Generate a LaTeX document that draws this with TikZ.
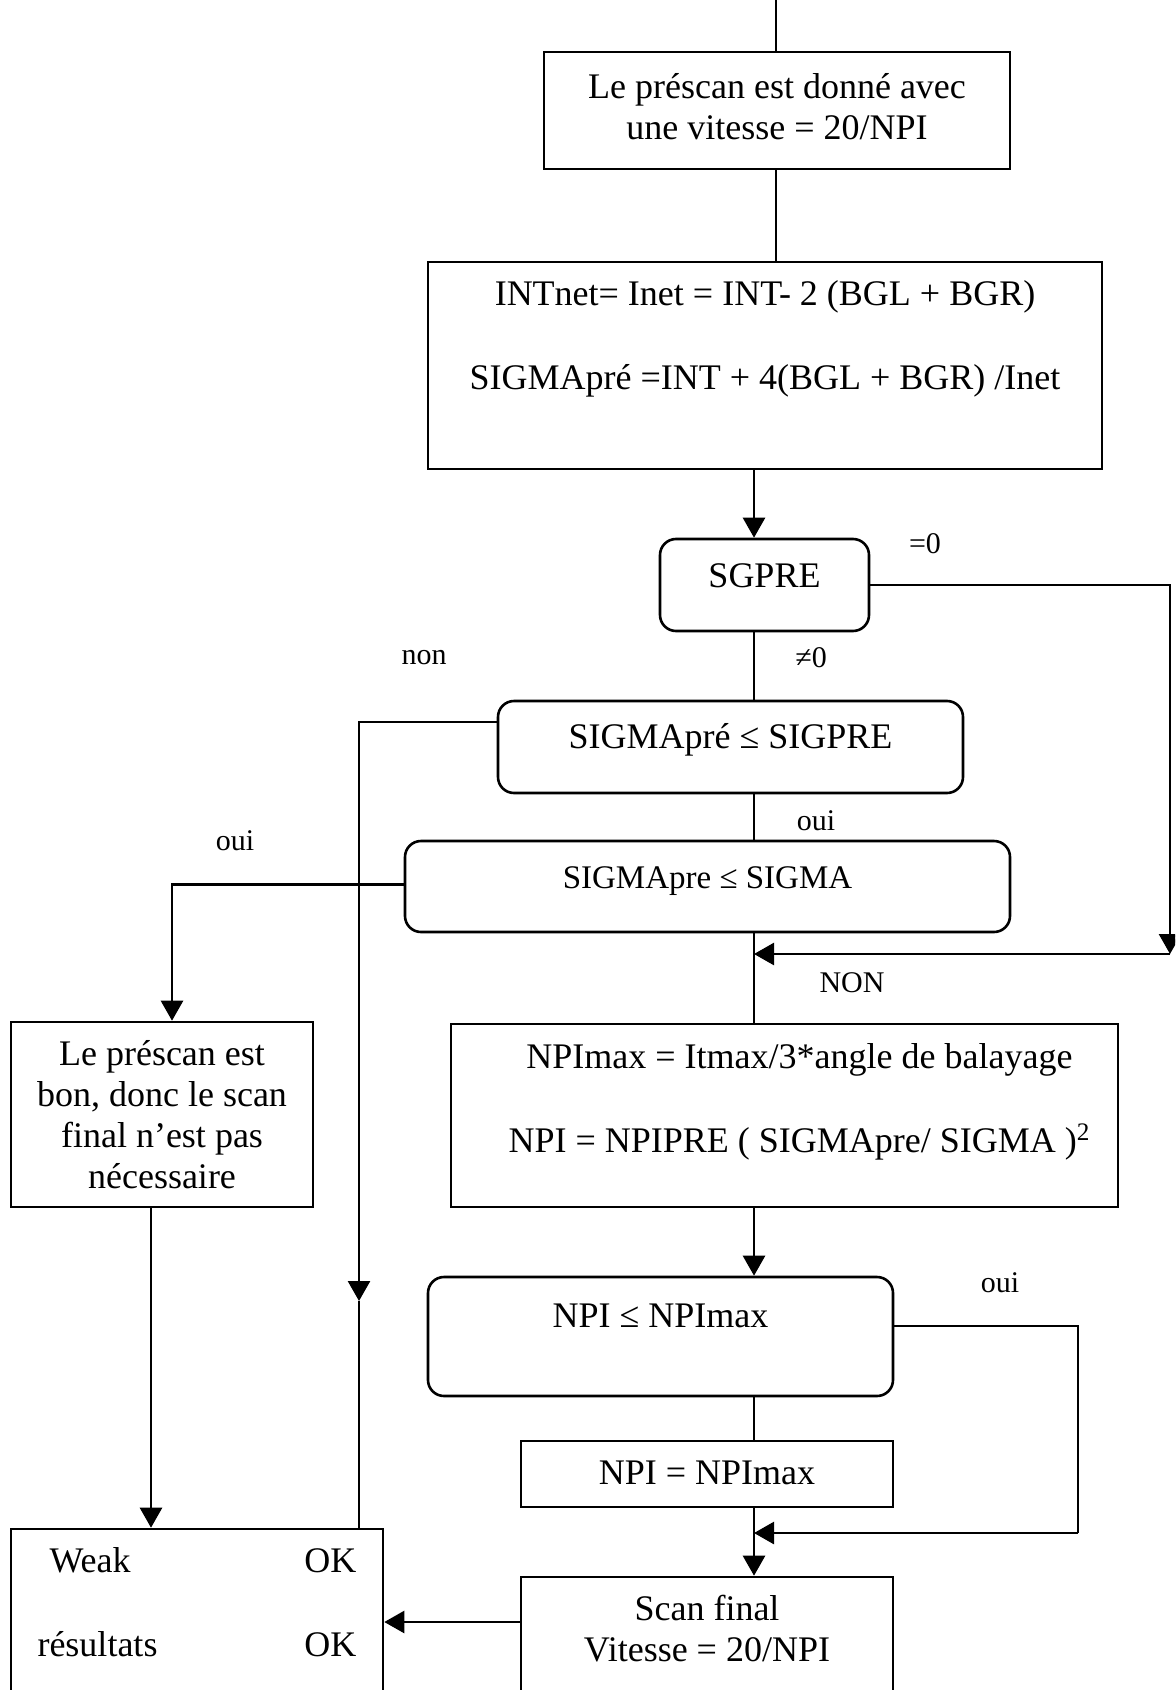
\documentclass[tikz,border=0pt]{standalone}
\usepackage{fontspec}
\setmainfont{Liberation Serif}
\usetikzlibrary{arrows.meta}

\begin{document}
\begin{tikzpicture}[
  x=1pt, y=-1pt,
  every node/.style = {inner sep=0pt, font=\fontsize{18}{20.5}\selectfont},
  block/.style = {draw, line width=1.3pt},
  test/.style = {draw, line width=1.3pt, rounded corners=8pt},
  lbl/.style = {font=\fontsize{15}{17}\selectfont},
  line/.style = {line width=1.3pt},
  arrow/.style = {line width=1.3pt, -{Triangle[length=10pt, width=11pt]}}
]
  \path[use as bounding box, clip] (0,0) rectangle (587.5,845);

  % axes des liaisons
  \coordinate (entree) at (388,0);
  \coordinate (axe) at (377,0);

  % Prescan
  \node[block, minimum width=233pt, text height=23.3pt, text depth=35.2pt] (prescan) at (388.5,55.25)
    {\begin{tabular}[t]{@{}c@{}}Le préscan est donné avec\\ une vitesse = 20/NPI\end{tabular}};

  % Calcul
  \node[block, minimum width=337pt, text height=21.8pt, text depth=81.7pt] (calcul) at (382.5,182.75)
    {\begin{tabular}[t]{@{}c@{}}INTnet= Inet = INT- 2 (BGL + BGR)\\[21.5pt]
      SIGMApré =INT + 4(BGL + BGR) /Inet\end{tabular}};

  % Tests
  \node[test, minimum width=104.5pt, text height=24.1pt, text depth=21.9pt] (sgpre) at (382.25,292.5) {SGPRE};
  \node[test, minimum width=232.5pt, text height=23.8pt, text depth=22.2pt] (testPre) at (365.25,373.5)
    {SIGMApré ≤ SIGPRE};
  \node[test, minimum width=302.5pt, text height=23.5pt, text depth=22pt,
    font=\fontsize{16.5}{19}\selectfont] (testSig) at (353.75,443.25) {SIGMApre ≤ SIGMA};

  % Prescan bon
  \node[block, minimum width=151pt, text height=21.9pt, text depth=70.6pt] (bon) at (81,557.25)
    {\begin{tabular}[t]{@{}c@{}}Le préscan est\\ bon, donc le scan\\ final n’est pas\\ nécessaire\end{tabular}};

  % NPImax
  \node[block, minimum width=333.5pt, text height=22.3pt, text depth=69.2pt] (npimax) at (392.25,557.75)
    {\begin{tabular}[t]{@{\hspace{15pt}}c@{}}NPImax = Itmax/3*angle de balayage\\[21.3pt]
      NPI = NPIPRE ( SIGMApre/ SIGMA )\textsuperscript{2}\end{tabular}};

  \node[test, minimum width=232.5pt, text height=25.3pt, text depth=34.2pt] (testNpi) at (330.25,668.25)
    {NPI ≤ NPImax};
  \node[block, minimum width=186pt, text height=21.6pt, text depth=11.4pt] (npiEgal) at (353.5,737)
    {NPI = NPImax};

  % Scan final
  \node[block, minimum width=186pt, text height=21.8pt, text depth=35.7pt] (scan) at (353.5,817.25)
    {\begin{tabular}[t]{@{}c@{}}Scan final\\ Vitesse = 20/NPI\end{tabular}};

  % Resultats
  \node[block, minimum width=186pt, text height=21.8pt, text depth=59.2pt] (weak) at (98.5,805)
    {\begin{tabular}[t]{@{}l@{\hspace{73.5pt}}r@{}}\hspace{6pt}Weak & OK\\[21.5pt] résultats & OK\end{tabular}};

  % Liaisons
  \draw[line] (entree) -- (prescan.north -| entree);
  \draw[line] (prescan.south -| entree) -- (calcul.north -| entree);
  \draw[arrow] (calcul.south -| axe) -- (sgpre.north -| axe);

  \coordinate (coinZero) at (585,477);
  \draw[arrow] (sgpre.east) -| (coinZero);
  \draw[arrow] (coinZero) -- (coinZero -| axe);

  \draw[line] (sgpre.south -| axe) -- (testPre.north -| axe);

  \coordinate (coinNon) at (179.5,650.5);
  \draw[arrow] ([yshift=12.5pt]testPre.west) -| (coinNon);
  \draw[line] (coinNon) -- (weak.north -| coinNon);

  \draw[line] (testPre.south -| axe) -- (testSig.north -| axe);

  \coordinate (coinOui) at (86,0);
  \draw[arrow] ([yshift=1pt]testSig.west) -| (bon.north -| coinOui);

  \draw[line] (testSig.south -| axe) -- (npimax.north -| axe);

  \coordinate (coinBon) at (75.5,0);
  \draw[arrow] (bon.south -| coinBon) -- (weak.north -| coinBon);

  \draw[arrow] (npimax.south -| axe) -- (testNpi.north -| axe);

  \coordinate (coinMax) at (539,766.5);
  \draw[line] ([yshift=5.25pt]testNpi.east) -| (coinMax);
  \draw[arrow] (coinMax) -- (coinMax -| axe);

  \draw[line] (testNpi.south -| axe) -- (npiEgal.north -| axe);
  \draw[arrow] (npiEgal.south -| axe) -- (scan.north -| axe);
  \draw[arrow] ([yshift=6.25pt]scan.west) -- ([yshift=6.25pt]scan.west -| weak.east);

  % Etiquettes
  \node[lbl] (lblZero) at (462.5,272) {=0};
  \node[lbl] (lblDiff) at (405.5,329) {≠0};
  \node[lbl] (lblNon) at (212,329) {non};
  \node[lbl] (lblOuiPre) at (408,410.5) {oui};
  \node[lbl] (lblOuiSig) at (117.5,420.5) {oui};
  \node[lbl] (lblNON) at (426,491.5) {NON};
  \node[lbl] (lblOuiNpi) at (500,641.5) {oui};
\end{tikzpicture}
\end{document}
